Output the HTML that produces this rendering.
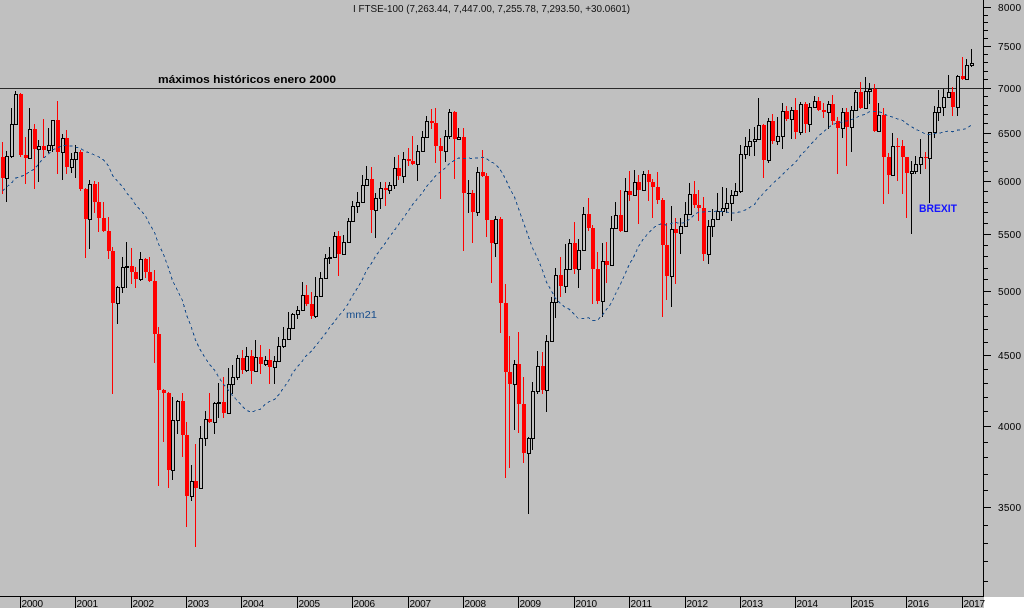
<!DOCTYPE html>
<html><head><meta charset="utf-8">
<style>
html,body{margin:0;padding:0;background:#c0c0c0;overflow:hidden;}
svg{display:block;}
text{font-family:"Liberation Sans",Arial,sans-serif;}
</style></head>
<body>
<svg id="c" width="1024" height="608" viewBox="0 0 1024 608" xmlns="http://www.w3.org/2000/svg" shape-rendering="crispEdges">
<rect x="0" y="0" width="1024" height="608" fill="#c0c0c0"/>
<rect x="984" y="597" width="40" height="11" fill="#ffffff"/>
<rect x="0" y="88" width="983" height="1" fill="#2a2a2a"/>
<g id="cand"></g>
<polyline id="ma" fill="none" stroke="#174d8c" stroke-width="1" stroke-dasharray="3 3" shape-rendering="crispEdges"/>
<rect x="0" y="596" width="984" height="1" fill="#000"/>
<rect x="983" y="0" width="1" height="597" fill="#000"/>
<g id="ticks"></g>
<g fill="#000">
<rect x="20" y="597" width="1" height="11"/><rect x="75" y="597" width="1" height="11"/><rect x="131" y="597" width="1" height="11"/><rect x="186" y="597" width="1" height="11"/><rect x="241" y="597" width="1" height="11"/><rect x="297" y="597" width="1" height="11"/><rect x="352" y="597" width="1" height="11"/><rect x="408" y="597" width="1" height="11"/><rect x="463" y="597" width="1" height="11"/><rect x="518" y="597" width="1" height="11"/><rect x="574" y="597" width="1" height="11"/><rect x="629" y="597" width="1" height="11"/><rect x="685" y="597" width="1" height="11"/><rect x="740" y="597" width="1" height="11"/><rect x="795" y="597" width="1" height="11"/><rect x="851" y="597" width="1" height="11"/><rect x="906" y="597" width="1" height="11"/><rect x="962" y="597" width="1" height="11"/>
</g>
<g font-size="10" fill="#000" shape-rendering="auto">
<text x="21.5" y="607" textLength="21.5">2000</text>
<text x="76.5" y="607" textLength="21.5">2001</text>
<text x="132.5" y="607" textLength="21.5">2002</text>
<text x="187.5" y="607" textLength="21.5">2003</text>
<text x="242.5" y="607" textLength="21.5">2004</text>
<text x="298.5" y="607" textLength="21.5">2005</text>
<text x="353.5" y="607" textLength="21.5">2006</text>
<text x="409.5" y="607" textLength="21.5">2007</text>
<text x="464.5" y="607" textLength="21.5">2008</text>
<text x="519.5" y="607" textLength="21.5">2009</text>
<text x="575.5" y="607" textLength="21.5">2010</text>
<text x="630.5" y="607" textLength="21.5">2011</text>
<text x="686.5" y="607" textLength="21.5">2012</text>
<text x="741.5" y="607" textLength="21.5">2013</text>
<text x="796.5" y="607" textLength="21.5">2014</text>
<text x="852.5" y="607" textLength="21.5">2015</text>
<text x="907.5" y="607" textLength="21.5">2016</text>
<text x="963.5" y="607" textLength="21.5">2017</text>
</g>
<g font-size="10" fill="#000" shape-rendering="auto">
<text x="998" y="11" textLength="23">8000</text>
<text x="998" y="50" textLength="23">7500</text>
<text x="998" y="92" textLength="23">7000</text>
<text x="998" y="137" textLength="23">6500</text>
<text x="998" y="185" textLength="23">6000</text>
<text x="998" y="238" textLength="23">5500</text>
<text x="998" y="295" textLength="23">5000</text>
<text x="998" y="359" textLength="23">4500</text>
<text x="998" y="430" textLength="23">4000</text>
<text x="998" y="511" textLength="23">3500</text>
</g>
<g shape-rendering="auto">
<text x="353" y="12" font-size="10" fill="#111" textLength="277" lengthAdjust="spacingAndGlyphs">I FTSE-100 (7,263.44, 7,447.00, 7,255.78, 7,293.50, +30.0601)</text>
<text x="158" y="83" font-size="11" font-weight="bold" fill="#000" textLength="178" lengthAdjust="spacingAndGlyphs">máximos históricos enero 2000</text>
<text x="346" y="318" font-size="10" fill="#174d8c" textLength="31" lengthAdjust="spacingAndGlyphs">mm21</text>
<text x="919" y="212" font-size="11" font-weight="bold" fill="#1414ff" textLength="38" lengthAdjust="spacingAndGlyphs">BREXIT</text>
</g>
</svg>
<script>
(function(){
var pre=[5458,5767,5932,5928,5870,5833,5837,5249,5064,5438,5743,5883,5896,6176,6296,6552,6226,6319,6231,6246];
var D=[
[6030,141.7,193],[6256,150.7,200.7],[6597,108,157],[6930,91,124],
[6269,93,156],[6233,136.7,182.7],[6540,108,157],[6327,124,188],[6359,140,180.7],[6313,119,157],[6365,128,151.7],[6640,121,151],[6294,101,172.7],[6438,134,178.7],[6142,130,172.7],[6222,153,171.7],
[6297,145,176.7],[5918,150,190],[5634,188,256.7],[5967,180,248],[5796,180.7,211.7],[5643,181.7,230.7],[5529,201.7,230],[5345,216.7,258],[4903,246.7,392.7],[5040,286,323.3],[5204,256.7,291.7],[5217,242,286.7],
[5165,248,283],[5101,266.7,287.3],[5272,251.7,280],[5166,258,276.7],[5085,256.7,280],[4656,270,361.7],[4246,326.7,485],[4227,389.3,440.7],[3722,391.7,486.7],[4039,396.7,479.3],[4169,400,432.7],[3940,393.3,456],
[3567,422.3,526],[3656,465,500],[3613,444,546],[3926,426,487.3],[4048,410.7,445],[4031,393.3,421],[4157,401.7,432.7],[4161,383.3,416.7],[4091,377.3,416.7],[4288,368.3,412.3],[4342,365,392.7],[4477,355,379.3],
[4390,350,372.7],[4492,346.7,370.7],[4386,350,382.7],[4489,340,370.7],[4431,345,373.3],[4464,356,365],[4413,349.3,383.3],[4459,356,383.3],[4571,337.3,360],[4624,326.7,346.7],[4703,311.7,338.3],[4814,312.7,328.3],
[4852,306,318.3],[4968,281.7,308.3],[4894,285,305],[4801,291.7,317.7],[4964,276.7,316.7],[5113,271.7,295],[5282,254.3,277.7],[5296,246.7,263.3],[5478,231.7,255],[5317,231,275],[5423,235,253.3],[5619,217.7,241.7],
[5760,201,219],[5792,191.7,212.3],[5965,175,201.7],[6023,166,183.3],[5724,166.7,231.7],[5833,193.3,236.7],[5928,182.3,207.7],[5907,182.3,205],[5961,182.3,193.3],[6129,156.7,188.3],[6049,155,179],[6221,151.7,181.7],
[6203,147.7,165],[6172,135.7,163.3],[6308,145,180],[6449,131,150],[6621,115.7,135.7],[6608,109,127.7],[6360,108.3,161.7],[6303,138.3,197.7],[6467,130,161],[6722,109,138.3],[6432,111,177.7],[6457,128.3,138.3],
[5880,128.3,250],[5884,180,211.7],[5702,190,242.3],[6087,166.7,215],[6053,150,176],[5626,173.3,236],[5412,221.7,281.7],[5637,216,256],[4902,216.7,331.7],[4377,284,477.3],[4288,336,466.7],[4434,360,429.3],
[4150,331.7,431.7],[3830,377.3,461.7],[3926,436.7,512.7],[4244,381.7,449.3],[4418,350.7,393.3],[4249,351.7,393.3],[4608,335,410.7],[4909,296.7,340.7],[5134,268.3,317.3],[5045,256.7,296],[5191,244,291.7],[5413,239.3,268.3],
[5189,221.7,272.7],[5355,239.3,286.7],[5680,206.7,249.3],[5553,198.3,230],[5188,225,302.7],[4917,251.7,302.7],[5258,242.7,316],[5225,241.7,281.7],[5549,216,263.3],[5675,201.7,227.3],[5528,190,230.7],[5900,178.3,229.3],
[5863,171,200],[5994,170,194],[5909,175,222.7],[6070,170.7,190],[5990,170,200],[5946,179.3,216.7],[5815,171.7,202.7],[5395,198.3,316],[5128,223.3,299.3],[5544,206,306],[5505,218.3,282.7],[5572,218.3,252.7],
[5682,201.7,225],[5872,183.3,214],[5768,180.7,207.3],[5738,190,220],[5321,197.3,260],[5571,220,262.7],[5635,209.3,236],[5711,192.7,219.3],[5742,187.3,215],[5783,188.3,211.7],[5867,190,220],[5898,182.7,195],
[6277,145,191.7],[6361,136.7,158.3],[6412,129.3,155],[6430,126.7,155],[6583,98.3,139.3],[6215,124,177.3],[6621,118.3,161.7],[6413,114,142.7],[6462,117.3,144],[6731,103.3,148.3],[6651,106,120],[6749,106.7,138.3],
[6510,98.3,138.3],[6810,101.7,134],[6598,101.7,131.7],[6780,103.3,130.7],[6845,96,106.7],[6744,96.7,109.3],[6730,103.3,116.7],[6820,100.7,128.3],[6623,95,124],[6546,117.3,172.7],[6723,108.3,136.7],[6566,108.3,165],
[6749,106,150.7],[6947,90,110],[6773,81.7,107.3],[6961,76.7,107.3],[6984,83.3,103.3],[6521,84,130],[6696,103.3,130.7],[6248,108,203.3],[6062,152.7,192.7],[6361,133.3,175],[6356,138,180],[6242,140,193.3],
[6084,156.7,217.3],[6097,161,232.7],[6175,156,173.3],[6242,139.3,173.3],[6231,151.7,168.3],[6504,131.7,201.7],[6724,106,137.3],[6781,90,120],[6899,89.3,115],[6954,75,96.7],[6784,87.3,115],[7143,75,115],
[7099,57.3,77.3],[7263,59.3,78.3],[7293.5,49.3,66]
];
var C=pre.concat(D.map(function(d){return d[0];}));
function Y(v){return 7+605*Math.log(8000/v);}
function X(m){return Math.floor(20.5+m*4.6155);}
var s='';
for(var j=0;j<D.length;j++){
  var m=j-4,i=j+20;
  var o=C[i-1],c=D[j][0];
  var cx=X(m);
  var yo=Math.round(Y(o)),yc=Math.round(Y(c));
  var top=Math.min(yo,yc),bot=Math.max(yo,yc);
  var hi=Math.round(Math.min(D[j][1],top)),lo=Math.round(Math.max(D[j][2],bot));
  if(c>=o){
    s+='<rect x="'+cx+'" y="'+hi+'" width="1" height="'+(lo-hi+1)+'" fill="#000"/>';
    s+='<rect x="'+(cx-1)+'" y="'+top+'" width="4" height="'+(bot-top+1)+'" fill="#000"/>';
    if(bot-top>=2) s+='<rect x="'+cx+'" y="'+(top+1)+'" width="2" height="'+(bot-top-1)+'" fill="#c0c0c0"/>';
  } else {
    s+='<rect x="'+cx+'" y="'+hi+'" width="1" height="'+(lo-hi+1)+'" fill="#ff0000"/>';
    s+='<rect x="'+(cx-1)+'" y="'+top+'" width="4" height="'+Math.max(1,bot-top)+'" fill="#ff0000"/>';
  }
}
document.getElementById('cand').innerHTML=s;
var pts=[];
for(var m=-4;m<=206;m++){
  var i=m+24,sum=0;
  for(var k=i-20;k<=i;k++)sum+=C[k];
  pts.push((X(m)+0.5)+','+Y(sum/21).toFixed(1));
}
document.getElementById('ma').setAttribute('points',pts.join(' '));
var t='';
for(var v=3100;v<=8000;v+=100){
  var y=Math.round(Y(v));
  var len=(v%500===0)?7:4;
  t+='<rect x="984" y="'+y+'" width="'+len+'" height="1" fill="#000"/>';
}
document.getElementById('ticks').innerHTML=t;
})();
</script>
</body></html>
